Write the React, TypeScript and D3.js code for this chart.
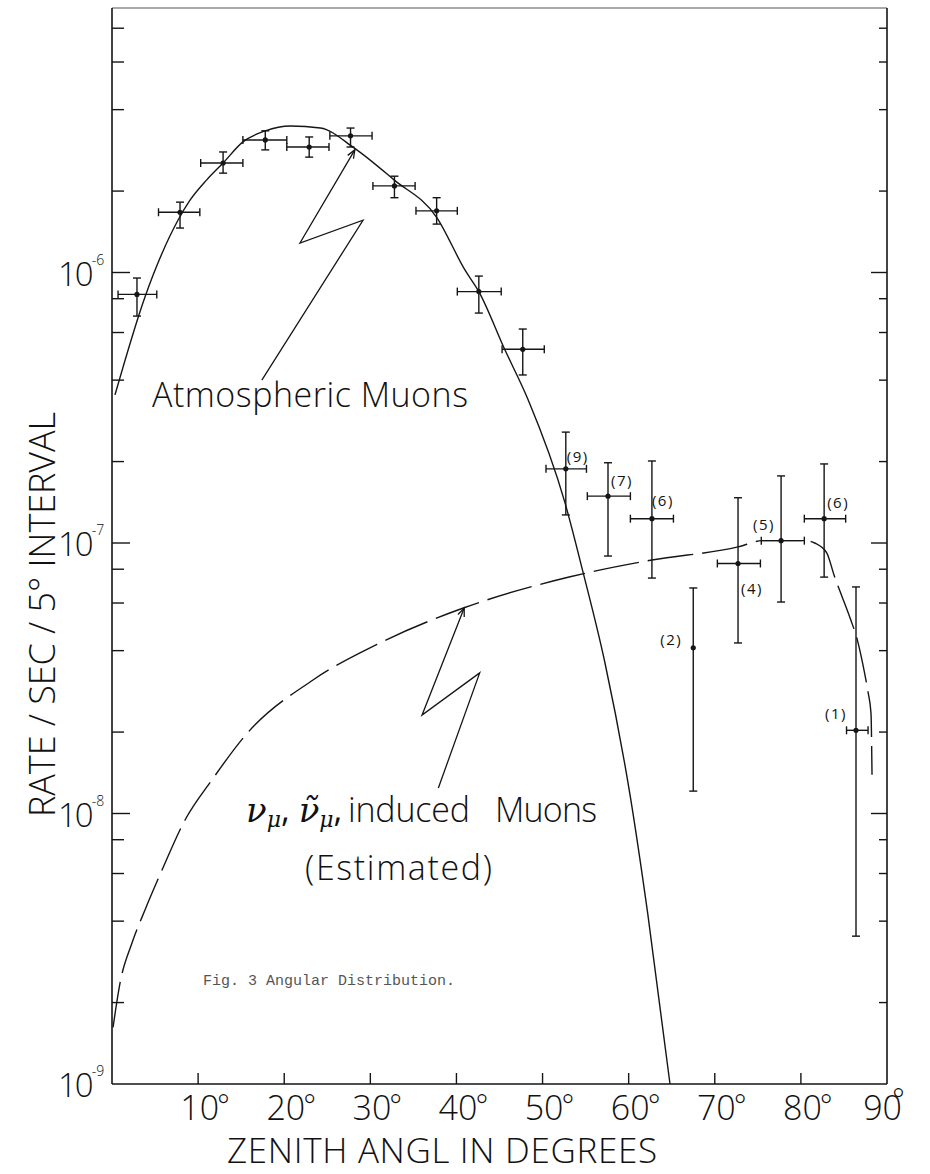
import React from 'react';
import * as d3 from 'd3';

// measured data points (zenith angle in deg, rate per sec per 5 deg)
const pointAngle = [2.9, 7.9, 12.9, 17.8, 22.9, 27.7, 32.8, 37.7, 42.6, 47.7, 52.7, 57.6, 62.7, 67.5, 72.7, 77.7, 82.7, 86.4];
const pointRate = [8.3e-7, 1.67e-6, 2.54e-6, 3.09e-6, 2.91e-6, 3.2e-6, 2.09e-6, 1.69e-6, 8.5e-7, 5.2e-7, 1.88e-7, 1.49e-7, 1.23e-7, 4.1e-8, 8.4e-8, 1.02e-7, 1.23e-7, 2.03e-8];
const rateLow = [6.9e-7, 1.46e-6, 2.33e-6, 2.84e-6, 2.67e-6, 2.91e-6, 1.89e-6, 1.51e-6, 7.08e-7, 4.18e-7, 1.27e-7, 8.95e-8, 7.42e-8, 1.21e-8, 4.27e-8, 6.05e-8, 7.48e-8, 3.52e-9];
const rateHigh = [9.54e-7, 1.82e-6, 2.79e-6, 3.34e-6, 3.17e-6, 3.42e-6, 2.27e-6, 1.89e-6, 9.7e-7, 6.18e-7, 2.57e-7, 1.98e-7, 2.01e-7, 6.82e-8, 1.47e-7, 1.77e-7, 1.96e-7, 6.88e-8];
const angleLow = [0.7, 5.4, 10.3, 15.2, 20.3, 25.3, 30.3, 35.3, 40.1, 45.3, 50.4, 55.2, 60.2, null, 70.3, 75.4, 80.4, 85.3];
const angleHigh = [5.2, 10.2, 15.2, 20.3, 25.2, 30.2, 35.2, 40.1, 45.2, 50.2, 55.1, 60.2, 65.2, null, 75.3, 80.4, 85.2, 87.8];
const eventCount = ['', '', '', '', '', '', '', '', '', '', '(9)', '(7)', '(6)', '(2)', '(4)', '(5)', '(6)', '(1)'];

// atmospheric muon curve (solid)
const atmAngle = [0.35, 3.83, 7.66, 9.06, 11.0, 12.9, 15.2, 17.8, 20.7, 24.2, 28.1, 32.75, 37.7, 41.0, 42.6, 45.6, 48.3, 52.6, 54.7, 57.25, 60.2, 62.2, 64.8];
const atmRate = [3.53e-7, 8.12e-7, 1.56e-6, 1.85e-6, 2.2e-6, 2.54e-6, 3.04e-6, 3.34e-6, 3.48e-6, 3.42e-6, 2.89e-6, 2.2e-6, 1.6e-6, 1.02e-6, 8.5e-7, 5.2e-7, 3.4e-7, 1.41e-7, 7.8e-8, 3.6e-8, 1.15e-8, 4.3e-9, 1e-9];

// neutrino induced muons, estimated (dashed)
const nuAngle = [0.12, 0.93, 2.32, 3.83, 5.81, 8.48, 11.6, 15.7, 23.3, 31.1, 40.8, 53.2, 62.7, 72.7, 75.5, 80.5, 81.6, 83.0, 83.85, 85.8, 86.5, 87.4, 87.8, 88.14, 88.26];
const nuRate = [1.62e-9, 2.36e-9, 3.32e-9, 4.4e-9, 6.18e-9, 9.46e-9, 1.33e-8, 1.98e-8, 3.11e-8, 4.27e-8, 5.75e-8, 7.5e-8, 8.65e-8, 9.67e-8, 1.02e-7, 1.02e-7, 1.0e-7, 9.2e-8, 7.61e-8, 5.19e-8, 4.45e-8, 3.3e-8, 2.81e-8, 2.35e-8, 1.39e-8];

// zig-zag pointer arrows (in data coordinates)
const atmArrowAngle = [17.4, 29.15, 21.83, 28.2];
const atmArrowRate = [4.0e-7, 1.56e-6, 1.285e-6, 2.84e-6];
const nuArrowAngle = [37.9, 42.7, 36.0, 40.9];
const nuArrowRate = [1.243e-8, 3.31e-8, 2.31e-8, 5.75e-8];

const xTickAngles = [10, 20, 30, 40, 50, 60, 70, 80, 90];
const yDecades = [-9, -8, -7, -6];
const minorMantissa = [2, 4, 6, 8];

const W = 930;
const H = 1174;
const margin = { top: 8, right: 43, bottom: 90, left: 112 };
const ink = '#151515';
const letterFont = "'Open Sans', 'Liberation Sans', Arial, sans-serif";
const letterWeight = 300;

// label offsets for the event counts (px from the point)
const countOffset: Record<number, [number, number]> = {
  10: [12, -12], 11: [14, -15], 12: [11, -18], 13: [-22, -8],
  14: [14, 25], 15: [-17, -16], 16: [14, -16], 17: [-20, -17],
};

const App: React.FC = () => {
  const x = d3.scaleLinear().domain([0, 90]).range([margin.left, W - margin.right]);
  const y = d3.scaleLog().domain([1e-9, 1e-5]).range([H - margin.bottom, H - margin.bottom - 4 * 270.5]);
  const x0 = margin.left, x1 = W - margin.right, y0 = H - margin.bottom, yTop = margin.top;

  const line = d3.line<[number, number]>()
    .x(d => x(d[0]))
    .y(d => y(d[1]))
    .curve(d3.curveMonotoneX);

  const atm = atmAngle.map((a, i) => [a, atmRate[i]] as [number, number]);
  const nu = nuAngle.map((a, i) => [a, nuRate[i]] as [number, number]);

  const minorTicks: number[] = [];
  yDecades.forEach(e => minorMantissa.forEach(m => minorTicks.push(m * Math.pow(10, e))));

  const arrow = (angles: number[], rates: number[]) => {
    const pts = angles.map((a, i) => [x(a), y(rates[i])]);
    const d = 'M' + pts.map(p => p.join(',')).join('L');
    const [tx, ty] = pts[pts.length - 1];
    const [px, py] = pts[pts.length - 2];
    const ang = Math.atan2(ty - py, tx - px);
    const len = 9, spread = 0.38;
    const h1 = [tx - len * Math.cos(ang - spread), ty - len * Math.sin(ang - spread)];
    const h2 = [tx - len * Math.cos(ang + spread), ty - len * Math.sin(ang + spread)];
    return (
      <g fill="none" stroke={ink} strokeWidth={1.3}>
        <path d={d} />
        <path d={`M${h1[0]},${h1[1]}L${tx},${ty}L${h2[0]},${h2[1]}`} />
      </g>
    );
  };

  return (
    <svg width={W} height={H} style={{ position: 'absolute', left: 0, top: 0, background: '#fff' }}>
      {/* frame */}
      <line x1={x0} x2={x1} y1={yTop} y2={yTop} stroke="#555" strokeWidth={1.2} />
      <line x1={x0} x2={x0} y1={yTop} y2={y0} stroke={ink} strokeWidth={1.6} />
      <line x1={x1} x2={x1} y1={yTop} y2={y0} stroke={ink} strokeWidth={1.6} />
      <line x1={x0} x2={x1} y1={y0} y2={y0} stroke={ink} strokeWidth={1.6} />

      {/* y ticks */}
      <g stroke={ink} strokeWidth={1.4}>
        {yDecades.filter(e => e > -9).map(e => (
          <g key={e}>
            <line x1={x0} x2={x0 + 18} y1={y(Math.pow(10, e))} y2={y(Math.pow(10, e))} />
            <line x1={x1} x2={x1 - 16} y1={y(Math.pow(10, e))} y2={y(Math.pow(10, e))} />
          </g>
        ))}
        {minorTicks.map(v => (
          <g key={v}>
            <line x1={x0} x2={x0 + 12} y1={y(v)} y2={y(v)} />
            <line x1={x1} x2={x1 - 8} y1={y(v)} y2={y(v)} />
          </g>
        ))}
      </g>
      {yDecades.map(e => (
        <text key={e} x={58} y={y(Math.pow(10, e)) + 13} fontSize={33} letterSpacing={-2}
          fill="#111" fontFamily={letterFont} fontWeight={letterWeight}>
          10
          <tspan fontSize={14} letterSpacing={0} dx={0} dy={-21}>{String(e)}</tspan>
        </text>
      ))}

      {/* x ticks */}
      <g stroke={ink} strokeWidth={1.4}>
        {xTickAngles.filter(a => a < 90).map(a => (
          <line key={a} x1={x(a)} x2={x(a)} y1={y0} y2={y0 - 11} />
        ))}
      </g>
      {xTickAngles.map(a => {
        const last = a === 90;
        return (
          <text key={a} x={x(a) + (last ? -3 : 7)} y={1120} fontSize={34} textAnchor="middle"
            fill="#111" fontFamily={letterFont} fontWeight={letterWeight}>
            {a}
            <tspan fontSize={30} dx={last ? -10 : -2} dy={last ? -10 : -4}>°</tspan>
          </text>
        );
      })}

      {/* axis titles */}
      <text x={227} y={1163} fontSize={35} fontFamily={letterFont} fontWeight={letterWeight} fill="#111" textLength={430} lengthAdjust="spacing">ZENITH ANGL IN DEGREES</text>
      <text transform="translate(55,614.5) rotate(-90)" fontSize={36} fontFamily={letterFont} fontWeight={letterWeight} fill="#111" textAnchor="middle" textLength={405} lengthAdjust="spacing">RATE / SEC / 5° INTERVAL</text>

      {/* model curves */}
      <path d={line(atm) || ''} fill="none" stroke={ink} strokeWidth={1.4} />
      <path d={line(nu) || ''} fill="none" stroke={ink} strokeWidth={1.4} strokeDasharray="46 9" />

      {/* data points */}
      <g stroke={ink} strokeWidth={1.4} fill={ink}>
        {pointAngle.map((a, i) => {
          const cx = x(a), cy = y(pointRate[i]);
          const lo = angleLow[i], hi = angleHigh[i];
          return (
            <g key={i}>
              <line x1={cx} x2={cx} y1={y(rateLow[i])} y2={y(rateHigh[i])} />
              <line x1={cx - 4} x2={cx + 4} y1={y(rateLow[i])} y2={y(rateLow[i])} />
              <line x1={cx - 4} x2={cx + 4} y1={y(rateHigh[i])} y2={y(rateHigh[i])} />
              {lo !== null && hi !== null && (
                <g>
                  <line x1={x(lo)} x2={x(hi)} y1={cy} y2={cy} />
                  <line x1={x(lo)} x2={x(lo)} y1={cy - 4} y2={cy + 4} />
                  <line x1={x(hi)} x2={x(hi)} y1={cy - 4} y2={cy + 4} />
                </g>
              )}
              <circle cx={cx} cy={cy} r={2.6} stroke="none" />
            </g>
          );
        })}
      </g>
      {pointAngle.map((a, i) => eventCount[i] ? (
        <text key={i} x={x(a) + countOffset[i][0]} y={y(pointRate[i]) + countOffset[i][1]} dy="0.35em"
          textAnchor="middle" fontSize={15} letterSpacing={1.5} fontFamily={letterFont} fill="#111">
          {eventCount[i]}
        </text>
      ) : null)}

      {/* pointers */}
      {arrow(atmArrowAngle, atmArrowRate)}
      {arrow(nuArrowAngle, nuArrowRate)}

      {/* annotations */}
      <text x={152} y={407} fontSize={34} fontFamily={letterFont} fontWeight={letterWeight} fill="#111" textLength={316} lengthAdjust="spacing">Atmospheric Muons</text>
      <text x={246} y={822} fontSize={34} fill="#111">
        <tspan fontFamily="'DejaVu Serif', serif" fontStyle="italic">ν</tspan>
        <tspan fontFamily="'DejaVu Serif', serif" fontStyle="italic" fontSize={22} dy={5}>μ</tspan>
        <tspan fontFamily={letterFont} dy={-5}>, </tspan>
        <tspan fontFamily="'DejaVu Serif', serif" fontStyle="italic">ν̃</tspan>
        <tspan fontFamily="'DejaVu Serif', serif" fontStyle="italic" fontSize={22} dy={5}>μ</tspan>
        <tspan fontFamily={letterFont} dy={-5}>,</tspan>
      </text>
      <text x={348} y={822} fontSize={34} fontFamily={letterFont} fontWeight={letterWeight} fill="#111" textLength={122} lengthAdjust="spacing">induced</text>
      <text x={495} y={822} fontSize={34} fontFamily={letterFont} fontWeight={letterWeight} fill="#111" textLength={102} lengthAdjust="spacing">Muons</text>
      <text x={305} y={880} fontSize={34} fontFamily={letterFont} fontWeight={letterWeight} fill="#111" textLength={187} lengthAdjust="spacing">(Estimated)</text>
      <text x={203} y={985} fontSize={15} fontFamily="'Liberation Mono', monospace" fill="#555">Fig. 3 Angular Distribution.</text>
    </svg>
  );
};

export default App;
